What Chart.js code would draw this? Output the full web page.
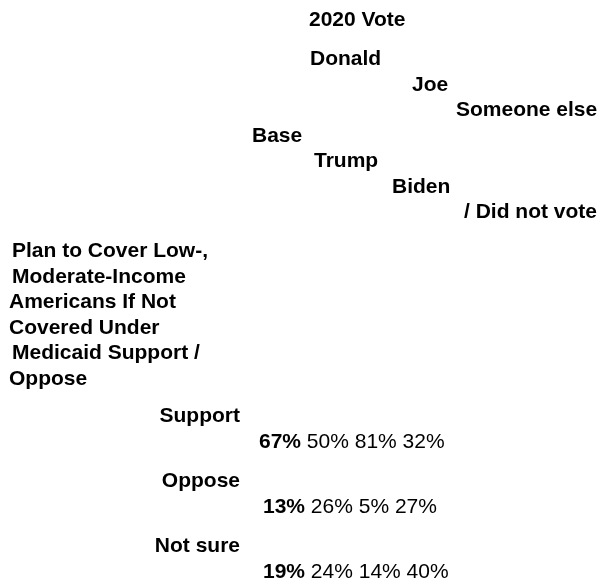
<!DOCTYPE html>
<html>
<head>
<meta charset="utf-8">
<script src="https://cdn.jsdelivr.net/npm/chart.js@4.4.1/dist/chart.umd.min.js"></script>
<style>
  html, body { margin: 0; padding: 0; background: #fff; }
  canvas { display: block; }
</style>
</head>
<body>
<canvas id="chartTabla" width="602" height="586"></canvas>
<script>
// ─── Data ─────────────────────────────────────────────────────
const title      = "2020 Vote";
const headLines  = ["Donald", "Joe", "Someone else", "Base", "Trump", "Biden", "/ Did not vote"];
const question   = ["Plan to Cover Low-,", "Moderate-Income", "Americans If Not",
                    "Covered Under", "Medicaid Support /", "Oppose"];
const rowLabels  = ["Support", "Oppose", "Not sure"];
const baseVals   = [67, 13, 19];
const trumpVals  = [50, 26, 24];
const bidenVals  = [81, 5, 14];
const otherVals  = [32, 27, 40];

// ─── Layout (pixel units on the hidden scales) ───────────────
const FONT = '"Liberation Sans", Arial, Helvetica, sans-serif';
const SIZE = 21;
const titlePos  = { x: 309, y: 26 };
const headX     = [310, 412, 456, 252, 314, 392, 464];
const headTop   = 65;     // baseline of first header line
const headStep  = 25.5;
const questX    = [12, 12, 9, 9, 12, 9];
const questTop  = 257;
const questStep = 25.5;
const labelRight = 240;
const rowTop     = 422;   // baseline of "Support"
const rowStep    = 65;
const valueDrop  = 26;    // label baseline -> values baseline
const valueX     = [259, 263, 263];

const tablePlugin = {
  id: "tableText",
  afterDraw(chart) {
    const { ctx, scales: { x, y } } = chart;
    const px = v => x.getPixelForValue(v);
    const py = v => y.getPixelForValue(v);
    ctx.save();
    ctx.fillStyle = "#000";
    ctx.textBaseline = "alphabetic";
    ctx.textAlign = "left";

    // Header
    ctx.font = `bold ${SIZE}px ${FONT}`;
    ctx.fillText(title, px(titlePos.x), py(titlePos.y));
    headLines.forEach((t, i) => ctx.fillText(t, px(headX[i]), py(headTop + i * headStep)));

    // Question
    question.forEach((t, i) => ctx.fillText(t, px(questX[i]), py(questTop + i * questStep)));

    // Rows
    rowLabels.forEach((lab, i) => {
      const base = rowTop + i * rowStep;
      ctx.font = `bold ${SIZE}px ${FONT}`;
      ctx.textAlign = "right";
      ctx.fillText(lab, px(labelRight), py(base));
      ctx.textAlign = "left";

      let cx = px(valueX[i]);
      const cy = py(base + valueDrop);
      const first = baseVals[i] + "%";
      ctx.fillText(first, cx, cy);
      cx += ctx.measureText(first).width;
      ctx.font = `${SIZE}px ${FONT}`;
      const rest = " " + [trumpVals[i], bidenVals[i], otherVals[i]].map(v => v + "%").join(" ");
      ctx.fillText(rest, cx, cy);
    });
    ctx.restore();
  }
};

new Chart(document.getElementById("chartTabla"), {
  type: "scatter",
  data: { datasets: [] },
  options: {
    responsive: false,
    animation: false,
    devicePixelRatio: 1,
    layout: { padding: 0 },
    plugins: { legend: { display: false }, tooltip: { enabled: false } },
    scales: {
      x: { type: "linear", min: 0, max: 602, display: false },
      y: { type: "linear", min: 0, max: 586, reverse: true, display: false }
    }
  },
  plugins: [tablePlugin]
});
</script>
</body>
</html>
